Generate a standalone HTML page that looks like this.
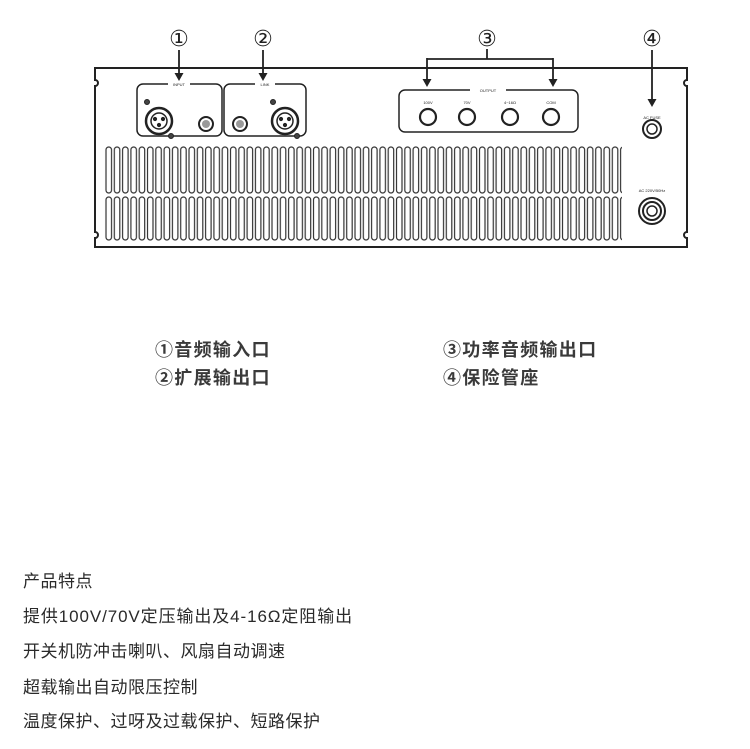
<!DOCTYPE html>
<html><head><meta charset="utf-8"><style>
html,body{margin:0;padding:0;background:#fff;width:750px;height:749px;overflow:hidden}
svg{position:absolute;left:0;top:0}
.t{position:absolute;font-family:"Liberation Sans","Noto Sans CJK SC",sans-serif;color:#333;white-space:nowrap}
.lg{font-size:18px;letter-spacing:1.3px;color:#3a3a3a;font-weight:bold}
.bt{font-size:17px;letter-spacing:0.5px;color:#2a2a2a}
</style></head><body>
<svg width="750" height="749" viewBox="0 0 750 749">
<defs>
<pattern id="sl" x="105" y="0" width="8.3" height="749" patternUnits="userSpaceOnUse">
<rect x="1" y="147" width="5.5" height="46" rx="2.7" fill="#fff" stroke="#333" stroke-width="1.2"/>
<rect x="1" y="197" width="5.5" height="43" rx="2.7" fill="#fff" stroke="#333" stroke-width="1.2"/>
</pattern>
</defs>
<g fill="none" stroke="#222" stroke-width="2">
<path d="M95,68 H687 V80 a3,3 0 0 0 0,6 V232 a3,3 0 0 0 0,6 V247 H95 V238 a3,3 0 0 0 0,-6 V86 a3,3 0 0 0 0,-6 Z"/>
</g>
<rect x="104" y="140" width="518" height="104" fill="url(#sl)"/>
<g fill="none" stroke="#222" stroke-width="1.5">
<rect x="137" y="84" width="85" height="52" rx="6"/>
<rect x="224" y="84" width="82" height="52" rx="6"/>
<rect x="399" y="90" width="179" height="42" rx="6"/>
</g>
<rect x="168" y="81" width="22" height="6" fill="#fff"/><rect x="255" y="81" width="20" height="6" fill="#fff"/><rect x="470" y="87" width="36" height="6" fill="#fff"/>
<g font-family="Liberation Sans" font-size="4" fill="#222" text-anchor="middle">
<text x="179" y="86">INPUT</text><text x="265" y="86">LINK</text><text x="488" y="92">OUTPUT</text>
<text x="428" y="104">100V</text><text x="467" y="104">70V</text><text x="510" y="104">4~16Ω</text><text x="551" y="104">COM</text>
<text x="652" y="119">AC FUSE</text><text x="652" y="192">AC 220V/50Hz</text>
</g>
<g stroke="#222" fill="none">
<circle cx="159" cy="121" r="13" stroke-width="2.5"/><circle cx="159" cy="121" r="8" stroke-width="1.5"/>
<circle cx="155" cy="119" r="1.6" fill="#222"/><circle cx="163" cy="119" r="1.6" fill="#222"/><circle cx="159" cy="125" r="1.6" fill="#222"/>
<circle cx="147" cy="102" r="2.5" fill="#444"/><circle cx="171" cy="136" r="2.5" fill="#444"/>
<circle cx="285" cy="121" r="13" stroke-width="2.5"/><circle cx="285" cy="121" r="8" stroke-width="1.5"/>
<circle cx="281" cy="119" r="1.6" fill="#222"/><circle cx="289" cy="119" r="1.6" fill="#222"/><circle cx="285" cy="125" r="1.6" fill="#222"/>
<circle cx="273" cy="102" r="2.5" fill="#444"/><circle cx="297" cy="136" r="2.5" fill="#444"/>
<circle cx="206" cy="124" r="7" stroke-width="2"/><circle cx="206" cy="124" r="4" fill="#999" stroke="none"/>
<circle cx="240" cy="124" r="7" stroke-width="2"/><circle cx="240" cy="124" r="4" fill="#999" stroke="none"/>
<circle cx="428" cy="117" r="8" stroke-width="2.2"/><circle cx="467" cy="117" r="8" stroke-width="2.2"/>
<circle cx="510" cy="117" r="8" stroke-width="2.2"/><circle cx="551" cy="117" r="8" stroke-width="2.2"/>
<circle cx="652" cy="129" r="9" stroke-width="2"/><circle cx="652" cy="129" r="5" stroke-width="1.5"/>
<circle cx="652" cy="211" r="13" stroke-width="2"/><circle cx="652" cy="211" r="9" stroke-width="2"/><circle cx="652" cy="211" r="5" stroke-width="1.5"/>
</g>
<g stroke="#222" stroke-width="1.8" fill="none">
<line x1="179" y1="50" x2="179" y2="74"/>
<line x1="263" y1="50" x2="263" y2="74"/>
<path d="M487,49 V59 M427,59 H553"/>
<line x1="427" y1="58" x2="427" y2="80"/>
<line x1="553" y1="58" x2="553" y2="80"/>
<line x1="652" y1="50" x2="652" y2="100"/>
</g>
<g fill="#222">
<polygon points="174.5,73 183.5,73 179,81"/>
<polygon points="258.5,73 267.5,73 263,81"/>
<polygon points="422.5,79 431.5,79 427,87"/>
<polygon points="548.5,79 557.5,79 553,87"/>
<polygon points="647.5,99 656.5,99 652,107"/>
</g>
<g font-family="DejaVu Sans,sans-serif" font-size="22" fill="#222" text-anchor="middle">
<text x="179" y="46">①</text><text x="263" y="46">②</text><text x="487" y="46">③</text><text x="652" y="46">④</text>
</g>
</svg>
<div class="t lg" style="left:155px;top:336px">①音频输入口</div>
<div class="t lg" style="left:155px;top:364px">②扩展输出口</div>
<div class="t lg" style="left:443px;top:336px">③功率音频输出口</div>
<div class="t lg" style="left:443px;top:364px">④保险管座</div>
<div class="t bt" style="left:23px;top:567px">产品特点</div>
<div class="t bt" style="left:23px;top:602px;letter-spacing:0.9px">提供100V/70V定压输出及4-16Ω定阻输出</div>
<div class="t bt" style="left:23px;top:637px">开关机防冲击喇叭、风扇自动调速</div>
<div class="t bt" style="left:23px;top:673px">超载输出自动限压控制</div>
<div class="t bt" style="left:23px;top:707px">温度保护、过呀及过载保护、短路保护</div>
</body></html>
